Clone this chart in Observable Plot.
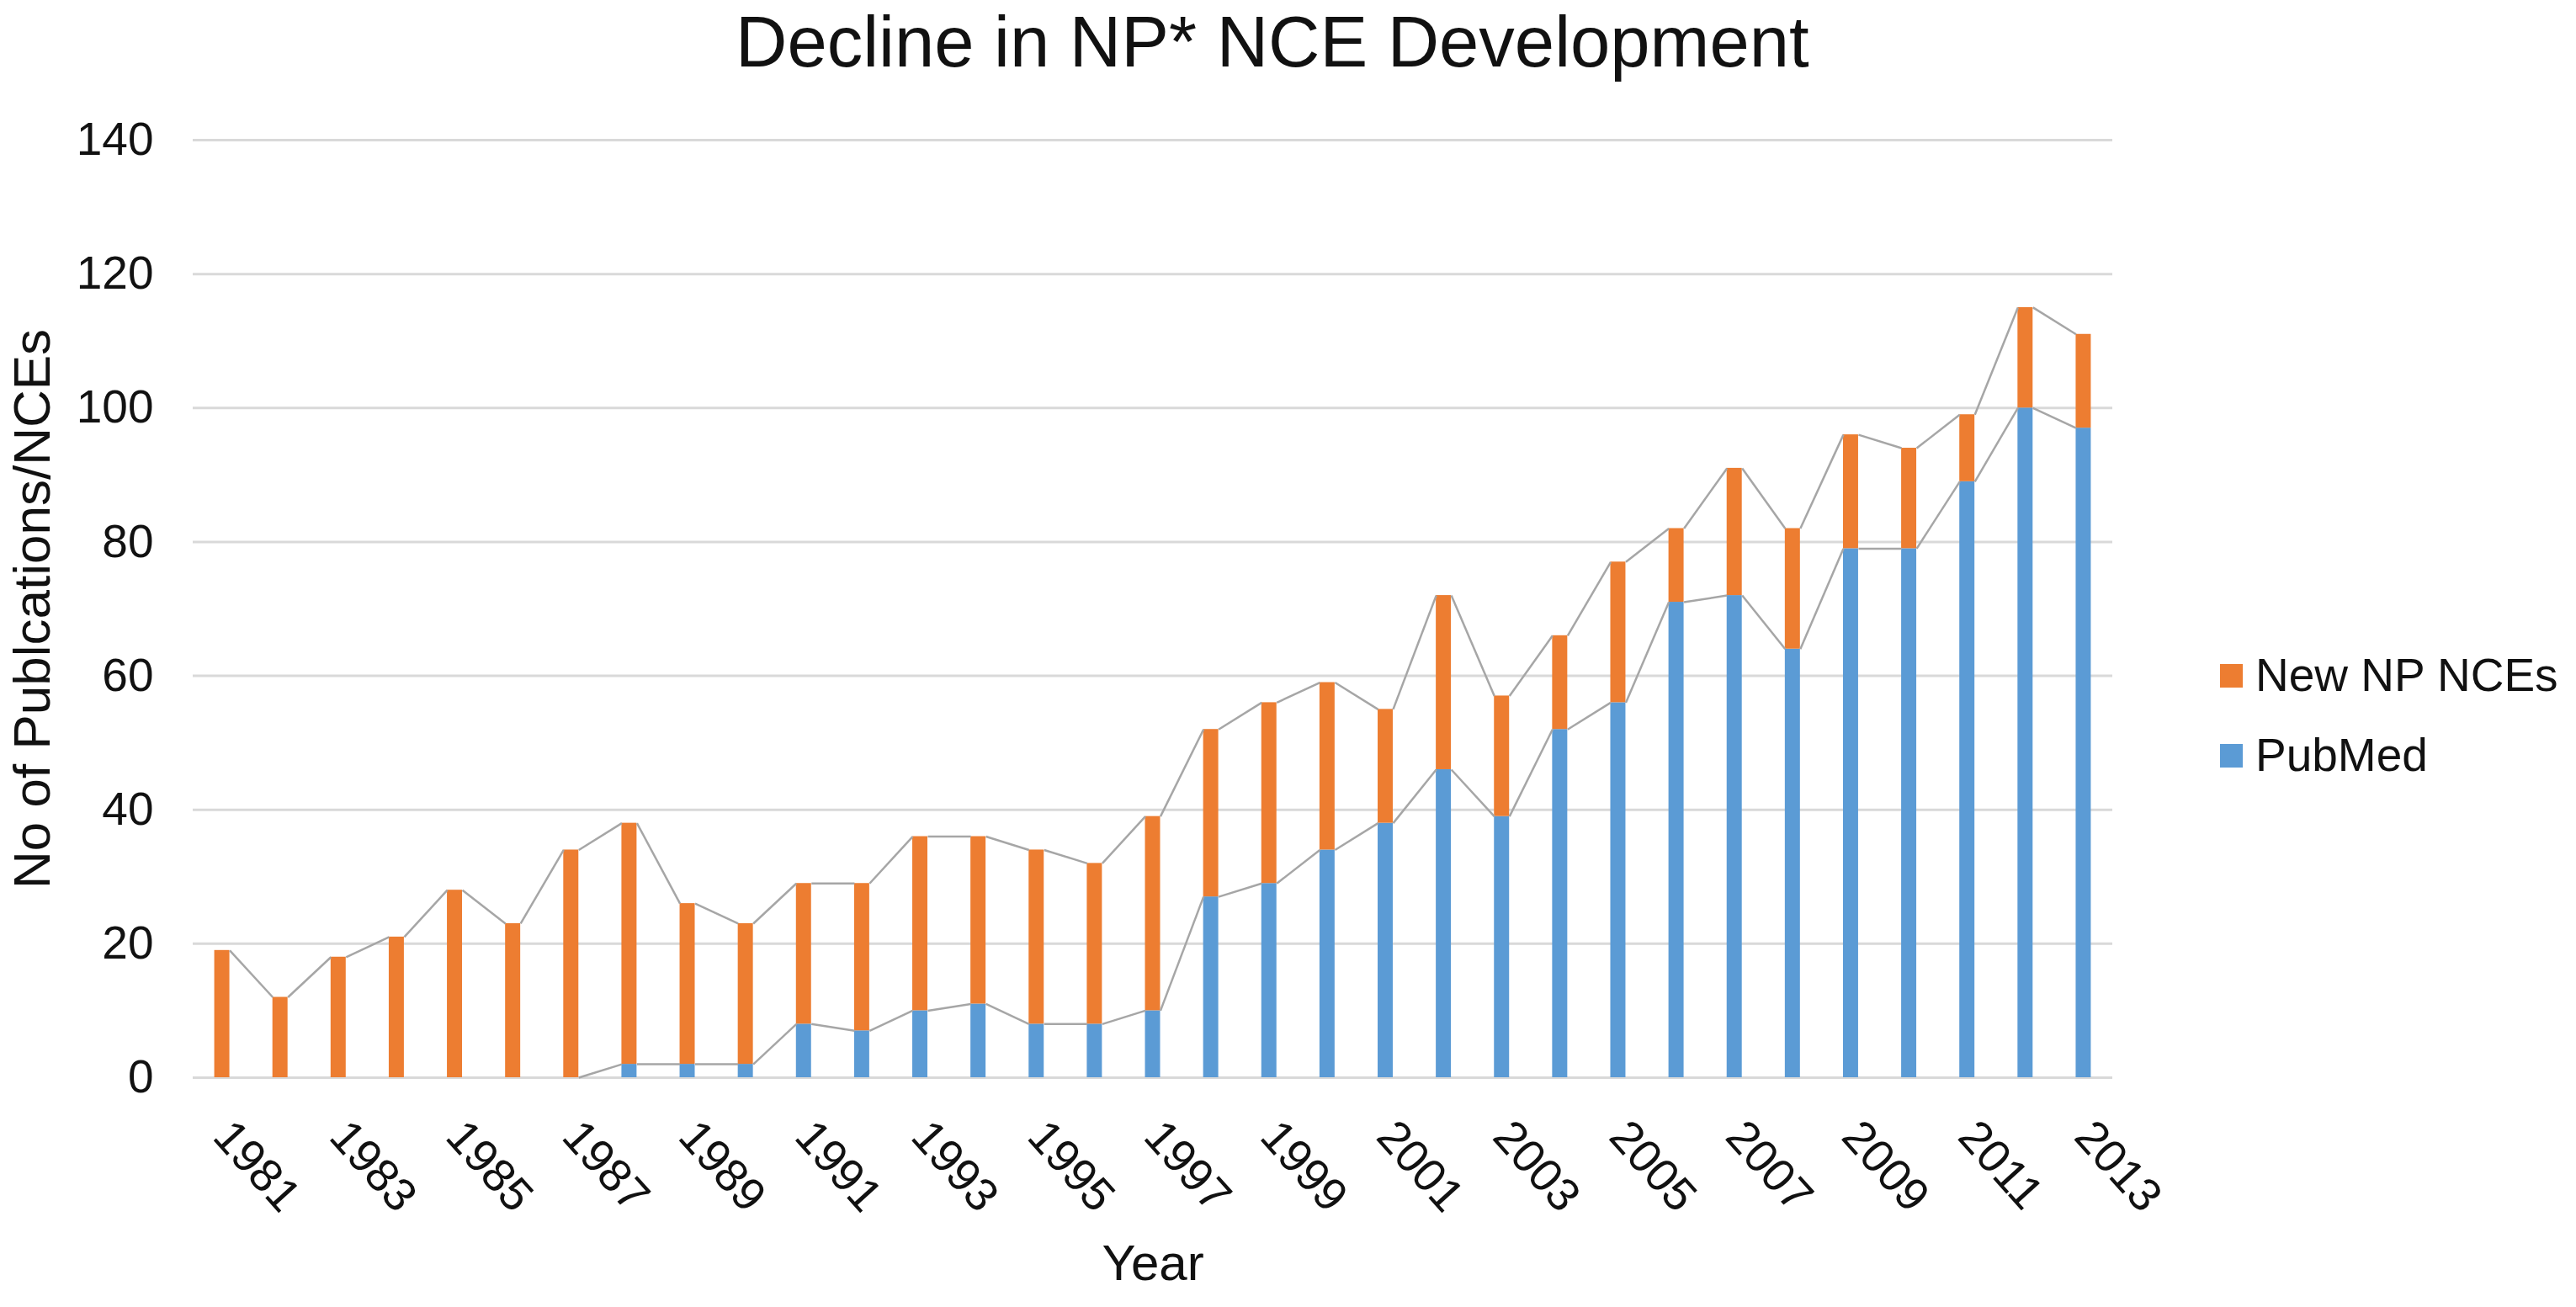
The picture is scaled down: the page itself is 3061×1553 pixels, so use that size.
<!DOCTYPE html>
<html><head><meta charset="utf-8">
<script src="https://cdn.jsdelivr.net/npm/d3@7"></script>
<script src="https://cdn.jsdelivr.net/npm/@observablehq/plot@0.6"></script>
<style>
html,body{margin:0;padding:0;background:#fff;}
#wrap{position:relative;width:3061px;height:1553px;font-family:"Liberation Sans",Arial,sans-serif;color:#111;overflow:hidden;}
#title{position:absolute;left:874px;top:1px;font-size:85px;line-height:normal;white-space:nowrap;}
#chart{position:absolute;left:0;top:100px;}
.leg{position:absolute;font-size:55px;line-height:55px;white-space:nowrap;}
.sw{position:absolute;width:27px;height:28px;}
</style></head><body>
<div id="wrap">
 <div id="title">Decline in NP* NCE Development</div>
 <div id="chart"></div>
 <div id="legend"></div>
</div>
<script>
const years = [1981,1982,1983,1984,1985,1986,1987,1988,1989,1990,1991,1992,1993,1994,1995,1996,1997,1998,1999,2000,2001,2002,2003,2004,2005,2006,2007,2008,2009,2010,2011,2012,2013];
const pubmed = [0,0,0,0,0,0,0,2,2,2,8,7,10,11,8,8,10,27,29,34,38,46,39,52,56,71,72,64,79,79,89,100,97];
const newNCE = [19,12,18,21,28,23,34,36,24,21,21,22,26,25,26,24,29,25,27,25,17,26,18,14,21,11,19,18,17,15,10,15,14];
const seriesNames = ["New NP NCEs","PubMed"];
const seriesColors = ["#ED7D31","#5B9BD5"];
const yTicks = [0,20,40,60,80,100,120,140];
const xTicks = years.filter(y => y % 2 === 1);
const halfBar = 0.13;

const rows = [];
years.forEach((yr,i)=>{
  rows.push({year: yr, series: "PubMed", y1: 0, y2: pubmed[i]});
  rows.push({year: yr, series: "New NP NCEs", y1: pubmed[i], y2: pubmed[i]+newNCE[i]});
});
const totals = years.map((_,i)=>pubmed[i]+newNCE[i]);
const links = [];
for (const v of [pubmed, totals]) {
  for (let i=0;i<years.length-1;i++){
    if (v[i]===0 && v[i+1]===0) continue;
    links.push({x1: years[i]+halfBar, y1: v[i], x2: years[i+1]-halfBar, y2: v[i+1]});
  }
}

const chart = Plot.plot({
  width: 3061, height: 1453,
  marginLeft: 229, marginRight: 551, marginTop: 66, marginBottom: 273,
  style: {fontFamily: '"Liberation Sans", Arial, sans-serif', fontSize: "55px", background: "#fff", color: "#111"},
  x: {type: "linear", domain: [1980.5, 2013.5]},
  y: {domain: [0, 140]},
  color: {domain: seriesNames, range: seriesColors},
  marks: [
    Plot.gridY({ticks: yTicks, stroke: "#D9D9D9", strokeOpacity: 1, strokeWidth: 3}),
    Plot.rect(rows.filter(d => d.y2 > d.y1), {x1: d => d.year - halfBar, x2: d => d.year + halfBar, y1: "y1", y2: "y2", fill: "series"}),
    Plot.link(links, {x1: "x1", y1: "y1", x2: "x2", y2: "y2", stroke: "#A6A6A6", strokeWidth: 2.5}),
    Plot.axisY({ticks: yTicks, tickSize: 0, tickPadding: 47, label: "No of Publcations/NCEs", labelAnchor: "center", labelOffset: 215, labelArrow: "none", fontSize: 55}),
    Plot.axisX({ticks: xTicks, tickFormat: d => String(d), tickSize: 0, tickPadding: 60, tickRotate: 48, label: "Year", labelAnchor: "center", labelOffset: 240, labelArrow: "none", fontSize: 55})
  ]
});
document.getElementById("chart").appendChild(chart);
d3.select(chart).selectAll('[aria-label="y-axis label"]').attr("font-size", 62);
d3.select(chart).selectAll('[aria-label="y-axis label"] text').attr("font-size", 62);
d3.select(chart).selectAll('[aria-label="x-axis label"]').attr("font-size", 60);
d3.select(chart).selectAll('[aria-label="x-axis label"] text').attr("font-size", 60);

const legend = d3.select("#legend");
const legTops = [775, 870];
seriesNames.forEach((name, i) => {
  legend.append("div").attr("class", "sw").style("left", "2638px").style("top", (legTops[i] + 14) + "px").style("background", seriesColors[i]);
  legend.append("div").attr("class", "leg").style("left", "2680px").style("top", legTops[i] + "px").text(name);
});
</script>
</body></html>
